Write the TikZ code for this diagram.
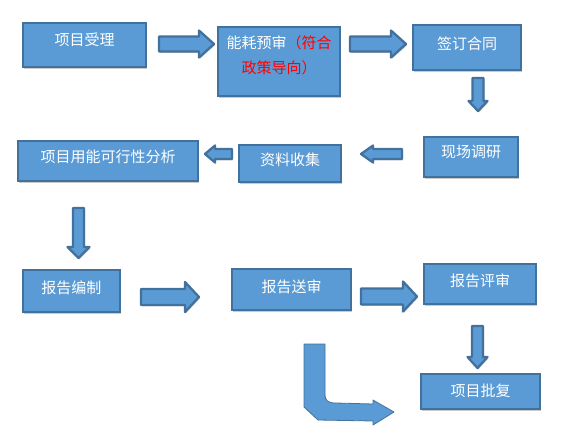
\documentclass[tikz,border=0pt]{standalone}
\usepackage{fontspec}
\setmainfont{Noto Sans CJK SC}
\usetikzlibrary{calc,shadows}
\definecolor{boxfill}{HTML}{5B9BD5}
\definecolor{boxline}{HTML}{41719C}
\definecolor{redtxt}{HTML}{FF0000}
\tikzset{
  box/.style={draw=boxline, fill=boxfill, line width=2.6pt,
    drop shadow={shadow xshift=1.2pt, shadow yshift=-1.6pt, opacity=0.35, fill=black!60},
    inner sep=0pt},
  lbl/.style={text=white, font=\fontsize{15}{25}\selectfont, inner sep=0pt, align=center},
  arrowshape/.style={draw=boxline, fill=boxfill, line width=2.3pt, line join=round,
    drop shadow={shadow xshift=1pt, shadow yshift=-1.4pt, opacity=0.3, fill=black!60}},
  bentshape/.style={draw=boxline, fill=boxfill, line width=0.8pt, line join=round},
  pics/barrow/.style n args={4}{code={
    \path[arrowstyle] (0,-#2) -- ({#1-#4},-#2) -- ({#1-#4},-#3) -- (#1,0)
      -- ({#1-#4},#3) -- ({#1-#4},#2) -- (0,#2) -- cycle;
  }},
  arrowstyle/.style={arrowshape}
}
\begin{document}
\begin{tikzpicture}[x=1pt,y=-1pt]
\useasboundingbox (0,0) rectangle (576,431);
% boxes
\node[box, minimum width=123pt, minimum height=44pt] (b1) at (84.5,45) {};
\node[box, minimum width=122pt, minimum height=69pt] (b2) at (279,61.5) {};
\node[box, minimum width=108pt, minimum height=45pt] (b3) at (467,47.5) {};
\node[box, minimum width=94pt, minimum height=40pt] (b4) at (471,157) {};
\node[box, minimum width=102pt, minimum height=37pt] (b5) at (290,163.5) {};
\node[box, minimum width=180pt, minimum height=40pt] (b6) at (108,161) {};
\node[box, minimum width=97pt, minimum height=42pt] (b7) at (71.5,291) {};
\node[box, minimum width=119pt, minimum height=41pt] (b8) at (291.5,289.5) {};
\node[box, minimum width=112pt, minimum height=40pt] (b9) at (480,284) {};
\node[box, minimum width=119pt, minimum height=35pt] (b10) at (480.5,391.5) {};
% labels
\node[lbl] (t1) at ($(b1.north)+(0,18)$) {项目受理};
\node[lbl] (t2) at ($(b2.north)+(0,30)$) {能耗预审\textcolor{redtxt}{（符合}\\\textcolor{redtxt}{政策导向）}};
\node[lbl] (t3) at ($(b3.north)+(0,20)$) {签订合同};
\node[lbl] (t4) at ($(b4.north)+(0,16)$) {现场调研};
\node[lbl] (t5) at ($(b5.north)+(0,16)$) {资料收集};
\node[lbl] (t6) at ($(b6.north)+(0,17)$) {项目用能可行性分析};
\node[lbl] (t7) at ($(b7.north)+(0,19)$) {报告编制};
\node[lbl] (t8) at ($(b8.north)+(0,19)$) {报告送审};
\node[lbl] (t9) at ($(b9.north)+(0,18)$) {报告评审};
\node[lbl] (t10) at ($(b10.north)+(0,18)$) {项目批复};
% block arrows (start coordinates)
\coordinate (a1) at (159,44);
\coordinate (a2) at (350,44);
\coordinate (a3) at (478,78);
\coordinate (a4) at (402,154);
\coordinate (a5) at (232,154);
\coordinate (a6) at (78.5,208);
\coordinate (a7) at (141,297);
\coordinate (a8) at (361,296.5);
\coordinate (a9) at (477.5,326);
\pic at (a1) {barrow={55}{7.5}{13.5}{15}};
\pic at (a2) {barrow={56}{7.5}{13.5}{15}};
\pic[rotate=-90] at (a3) {barrow={33}{5.5}{9.5}{10}};
\pic[rotate=180] at (a4) {barrow={41}{5}{8.5}{12}};
\pic[rotate=180] at (a5) {barrow={27}{5}{8.5}{10}};
\pic[rotate=-90] at (a6) {barrow={50}{5.5}{11}{11}};
\pic at (a7) {barrow={58}{8}{15}{14}};
\pic at (a8) {barrow={56}{8}{15}{14}};
\pic[rotate=-90] at (a9) {barrow={42}{5.5}{10}{11}};
% bent arrow
\coordinate (c1) at (304,344);
\coordinate (c2) at (394,412);
\path[bentshape] (c1) -- (325,344) -- (325,394)
  .. controls (325,401) and (328,403) .. (336,403)
  -- (373,404) -- (373,400) -- (c2) -- (373,425) -- (373,421)
  -- (318,420) -- (304,407) -- cycle;
\end{tikzpicture}
\end{document}
